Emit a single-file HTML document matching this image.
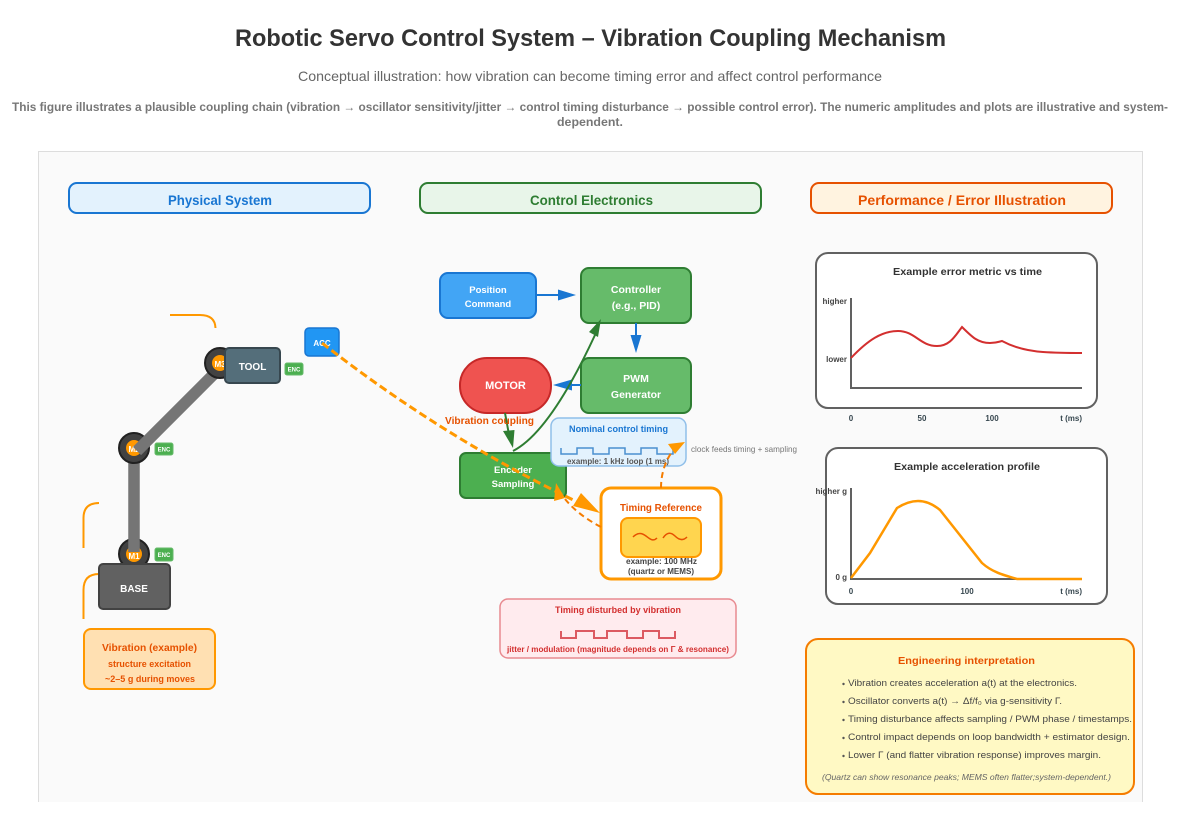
<!DOCTYPE html>
<html><head><meta charset="utf-8"><style>
html,body{margin:0;padding:0;background:#fff;width:1178px;height:815px;overflow:hidden}
svg{display:block}
text{font-family:"Liberation Sans",Arial,sans-serif}
.b{font-weight:700}
.w{fill:#fff;font-weight:700}
</style></head><body>
<svg width="1178" height="815" viewBox="0 0 1178 815" xmlns="http://www.w3.org/2000/svg">
<rect width="1178" height="815" fill="#fff"/>
<text x="235" y="46" font-size="24" class="b" fill="#333" textLength="711" lengthAdjust="spacingAndGlyphs">Robotic Servo Control System – Vibration Coupling Mechanism</text>
<text x="298" y="81" font-size="14" fill="#666" textLength="584" lengthAdjust="spacingAndGlyphs">Conceptual illustration: how vibration can become timing error and affect control performance</text>
<text x="12" y="111" font-size="12" class="b" fill="#777" textLength="1156" lengthAdjust="spacingAndGlyphs">This figure illustrates a plausible coupling chain (vibration → oscillator sensitivity/jitter → control timing disturbance → possible control error). The numeric amplitudes and plots are illustrative and system-</text>
<text x="557" y="126" font-size="12" class="b" fill="#777" textLength="66" lengthAdjust="spacingAndGlyphs">dependent.</text>

<path d="M38.500 802V151.500H1142.500V802" fill="#fafafa" stroke="#ddd"/>

<rect x="69" y="183" width="301" height="30" rx="8" fill="#e3f2fd" stroke="#1976d2" stroke-width="2"/>
<text x="168" y="205" font-size="14" class="b" fill="#1976d2" textLength="104" lengthAdjust="spacingAndGlyphs">Physical System</text>
<rect x="420" y="183" width="341" height="30" rx="8" fill="#e8f5e9" stroke="#2e7d32" stroke-width="2"/>
<text x="530" y="205" font-size="14" class="b" fill="#2e7d32" textLength="123" lengthAdjust="spacingAndGlyphs">Control Electronics</text>
<rect x="811" y="183" width="301" height="30" rx="8" fill="#fff3e0" stroke="#e65100" stroke-width="2"/>
<text x="858" y="205" font-size="14" class="b" fill="#e65100" textLength="208" lengthAdjust="spacingAndGlyphs">Performance / Error Illustration</text>

<!-- vibration arcs -->
<g fill="none" stroke="#ff9800" stroke-width="2">
<path d="M170 315H200Q215 315 215.500 328"/>
<path d="M83.500 548V518Q83.500 503 99 503"/>
<path d="M83.500 619V590Q83.500 574 99 574"/>
</g>

<!-- robot -->
<circle cx="134" cy="554" r="15" fill="#424242" stroke="#212121" stroke-width="2"/>
<circle cx="134" cy="554" r="8" fill="#ff9800"/>
<line x1="134" y1="552" x2="134" y2="448" stroke="#757575" stroke-width="11.500"/>
<text x="134" y="559" font-size="8" class="w" text-anchor="middle">M1</text>
<rect x="99" y="564" width="71" height="45" rx="4" fill="#616161" stroke="#424242" stroke-width="2"/>
<text x="134" y="592" font-size="10" class="w" text-anchor="middle">BASE</text>
<circle cx="134" cy="448" r="15" fill="#424242" stroke="#212121" stroke-width="2"/>
<circle cx="134" cy="448" r="8" fill="#ff9800"/>
<text x="134" y="452" font-size="8" class="w" text-anchor="middle">M2</text>
<line x1="137" y1="451" x2="222" y2="366" stroke="#757575" stroke-width="11.500"/>
<circle cx="220" cy="363" r="15" fill="#424242" stroke="#212121" stroke-width="2"/>
<circle cx="220" cy="363" r="8" fill="#ff9800"/>
<text x="220" y="367" font-size="8" class="w" text-anchor="middle">M3</text>
<rect x="225" y="348" width="55" height="35" rx="4" fill="#546e7a" stroke="#37474f" stroke-width="2"/>
<text x="252.500" y="370" font-size="10" class="w" text-anchor="middle">TOOL</text>
<g fill="#4caf50" stroke="#66bb6a">
<rect x="155" y="548" width="18" height="13" rx="2"/><rect x="155" y="443" width="18" height="12" rx="2"/><rect x="285" y="363" width="18" height="12" rx="2"/>
</g>
<g font-size="6" class="w" text-anchor="middle">
<text x="164" y="557">ENC</text><text x="164" y="451.500">ENC</text><text x="294" y="371.500">ENC</text>
</g>
<rect x="305" y="328" width="34" height="28" rx="4" fill="#2196f3" stroke="#1976d2" stroke-width="1.500"/>
<text x="322" y="346" font-size="8" class="w" text-anchor="middle">ACC</text>

<rect x="84" y="629" width="131" height="60" rx="7" fill="#ffe0b2" stroke="#ff9800" stroke-width="2"/>
<text x="102" y="651" font-size="10.500" class="b" fill="#e65100" textLength="95" lengthAdjust="spacingAndGlyphs">Vibration (example)</text>
<text x="108" y="667" font-size="9" class="b" fill="#e65100" textLength="83" lengthAdjust="spacingAndGlyphs">structure excitation</text>
<text x="105" y="682" font-size="9" class="b" fill="#e65100" textLength="90" lengthAdjust="spacingAndGlyphs">~2–5 g during moves</text>

<!-- control blocks -->
<rect x="440" y="273" width="96" height="45" rx="8" fill="#42a5f5" stroke="#1976d2" stroke-width="2"/>
<text x="488" y="293" font-size="9.500" class="w" text-anchor="middle">Position</text>
<text x="488" y="307" font-size="9.500" class="w" text-anchor="middle">Command</text>
<rect x="581" y="268" width="110" height="55" rx="8" fill="#66bb6a" stroke="#2e7d32" stroke-width="2"/>
<text x="636" y="293" font-size="10.500" class="w" text-anchor="middle">Controller</text>
<text x="636" y="309" font-size="10.500" class="w" text-anchor="middle">(e.g., PID)</text>
<rect x="581" y="358" width="110" height="55" rx="8" fill="#66bb6a" stroke="#2e7d32" stroke-width="2"/>
<text x="636" y="382" font-size="10.500" class="w" text-anchor="middle">PWM</text>
<text x="636" y="398" font-size="10.500" class="w" text-anchor="middle">Generator</text>
<rect x="460" y="358" width="91" height="55" rx="27" fill="#ef5350" stroke="#c62828" stroke-width="2"/>
<text x="505.500" y="389" font-size="11" class="w" text-anchor="middle">MOTOR</text>
<rect x="460" y="453" width="106" height="45" rx="6" fill="#4caf50" stroke="#2e7d32" stroke-width="2"/>
<text x="513" y="473" font-size="9.500" class="w" text-anchor="middle">Encoder</text>
<text x="513" y="487" font-size="9.500" class="w" text-anchor="middle">Sampling</text>

<!-- blue arrows -->
<g stroke="#1976d2" stroke-width="2" fill="none">
<line x1="537" y1="295" x2="560" y2="295"/><line x1="636" y1="323" x2="636" y2="336"/><line x1="581" y1="385" x2="570" y2="385"/>
</g>
<g fill="#1976d2">
<polygon points="576,295 558,289.500 558,300.500"/><polygon points="636,353 630.500,335 641.500,335"/><polygon points="553,385 572,379.500 572,390.500"/>
</g>
<!-- green arrows -->
<g stroke="#2e7d32" stroke-width="2" fill="none">
<path d="M505 413L510 440"/>
<path d="M513 451Q550 432 595 335"/>
</g>
<g fill="#2e7d32">
<polygon points="513,448 503,431 514.500,430"/>
<polygon points="601,319 598,337 589,332"/>
</g>

<text x="445" y="424" font-size="10" class="b" fill="#e65100" textLength="89" lengthAdjust="spacingAndGlyphs">Vibration coupling</text>

<!-- nominal -->
<rect x="551" y="418" width="135" height="48" rx="8" fill="#e3f2fd" stroke="#90bfe9" stroke-width="1.500"/>
<text x="569" y="432" font-size="9" class="b" fill="#1976d2" textLength="99" lengthAdjust="spacingAndGlyphs">Nominal control timing</text>
<path d="M561 448V454H577V448H593V454H609V448H625V454H641V448H657V454H673V448" fill="none" stroke="#4a90d0" stroke-width="1.500"/>
<text x="567" y="464" font-size="8" class="b" fill="#555" textLength="102" lengthAdjust="spacingAndGlyphs">example: 1 kHz loop (1 ms)</text>
<text x="691" y="452" font-size="8.500" fill="#777" textLength="106" lengthAdjust="spacingAndGlyphs">clock feeds timing + sampling</text>

<!-- timing reference -->
<rect x="601" y="488" width="120" height="91" rx="10" fill="#fff" stroke="#ff9800" stroke-width="3"/>
<text x="620" y="511" font-size="10" class="b" fill="#e65100" textLength="82" lengthAdjust="spacingAndGlyphs">Timing Reference</text>
<rect x="621" y="518" width="80" height="39" rx="7" fill="#ffd54f" stroke="#ff9800" stroke-width="2"/>
<path d="M633 537C638 532 642 533 646 536S653 542 657 538M663 538C667 532 671 532 675 536S683 541 687 537" fill="none" stroke="#e65100" stroke-width="1.500"/>
<text x="626" y="564" font-size="8" class="b" fill="#444" textLength="71" lengthAdjust="spacingAndGlyphs">example: 100 MHz</text>
<text x="628" y="574" font-size="8" class="b" fill="#444" textLength="66" lengthAdjust="spacingAndGlyphs">(quartz or MEMS)</text>

<!-- disturbed -->
<rect x="500" y="599" width="236" height="59" rx="8" fill="#ffebee" stroke="#e88a90" stroke-width="1.500"/>
<text x="555" y="613" font-size="9" class="b" fill="#d32f2f" textLength="126" lengthAdjust="spacingAndGlyphs">Timing disturbed by vibration</text>
<path d="M561 631V638H576V631H594V638H607V631H627V638H643V631H659V638H675V631" fill="none" stroke="#dc5a62" stroke-width="2"/>
<text x="507" y="652" font-size="8" class="b" fill="#d32f2f" textLength="222" lengthAdjust="spacingAndGlyphs">jitter / modulation (magnitude depends on Γ &amp; resonance)</text>

<!-- dashed connectors -->
<path d="M322 343Q447.400 440.900 586.300 506.200" fill="none" stroke="#ff9800" stroke-width="3" stroke-dasharray="8,4"/>
<polygon points="600,513 573,506 581,493" fill="#ff9800"/>
<path d="M601 527Q578 515 565 499" fill="none" stroke="#f57c00" stroke-width="2" stroke-dasharray="6,4"/>
<polygon points="556,483 565,498 554,501" fill="#ff9800"/>
<path d="M661 488Q661 466 674 449" fill="none" stroke="#f57c00" stroke-width="2" stroke-dasharray="6,4"/>
<polygon points="685,442 668,444 675,454" fill="#ff9800"/>

<!-- chart 1 -->
<rect x="816" y="253" width="281" height="155" rx="12" fill="#fff" stroke="#616161" stroke-width="2"/>
<text x="893" y="275" font-size="10.500" class="b" fill="#333" textLength="149" lengthAdjust="spacingAndGlyphs">Example error metric vs time</text>
<path d="M851 298V388H1082" fill="none" stroke="#616161" stroke-width="2"/>
<g font-size="8" class="b" fill="#444">
<text x="847" y="304" text-anchor="end">higher</text><text x="847" y="362" text-anchor="end">lower</text>
<text x="851" y="421" text-anchor="middle" fill="#37474f">0</text><text x="922" y="421" text-anchor="middle" fill="#37474f">50</text><text x="992" y="421" text-anchor="middle" fill="#37474f">100</text><text x="1082" y="421" text-anchor="end" fill="#37474f">t (ms)</text>
</g>
<path d="M851 358C868 340 882 331 898 331C915 331 920 346 937 346C950 346 955 336 962 327C972 337 978 343 990 343C996 343 998 342 1002 341C1015 348 1028 351 1043 352C1058 353 1070 353 1082 353" fill="none" stroke="#d32f2f" stroke-width="2"/>

<!-- chart 2 -->
<rect x="826" y="448" width="281" height="156" rx="12" fill="#fff" stroke="#616161" stroke-width="2"/>
<text x="894" y="470" font-size="10.500" class="b" fill="#333" textLength="146" lengthAdjust="spacingAndGlyphs">Example acceleration profile</text>
<path d="M851 488V579H1082" fill="none" stroke="#616161" stroke-width="2"/>
<g font-size="8" class="b" fill="#444">
<text x="847" y="494" text-anchor="end">higher g</text><text x="847" y="580" text-anchor="end">0 g</text>
<text x="851" y="594" text-anchor="middle" fill="#37474f">0</text><text x="967" y="594" text-anchor="middle" fill="#37474f">100</text><text x="1082" y="594" text-anchor="end" fill="#37474f">t (ms)</text>
</g>
<path d="M851 578L870 553L885 528L897 508C905 503 911 501 918 501C927 501 934 505 940 510L982 563C992 572 1003 575 1017 579H1082" fill="none" stroke="#ff9800" stroke-width="2.500"/>

<!-- engineering -->
<rect x="806" y="639" width="328" height="155" rx="12" fill="#fff9c4" stroke="#f57c00" stroke-width="2"/>
<text x="898" y="664" font-size="10.500" class="b" fill="#e65100" textLength="137" lengthAdjust="spacingAndGlyphs">Engineering interpretation</text>
<g fill="#555"><circle cx="843.500" cy="684" r="1.200"/><circle cx="843.500" cy="702" r="1.200"/><circle cx="843.500" cy="720" r="1.200"/><circle cx="843.500" cy="738" r="1.200"/><circle cx="843.500" cy="756" r="1.200"/></g>
<g font-size="9.500" fill="#444">
<text x="848" y="686" textLength="229" lengthAdjust="spacingAndGlyphs">Vibration creates acceleration a(t) at the electronics.</text>
<text x="848" y="704" textLength="214" lengthAdjust="spacingAndGlyphs">Oscillator converts a(t) → Δf/f₀ via g-sensitivity Γ.</text>
<text x="848" y="722" textLength="284" lengthAdjust="spacingAndGlyphs">Timing disturbance affects sampling / PWM phase / timestamps.</text>
<text x="848" y="740" textLength="282" lengthAdjust="spacingAndGlyphs">Control impact depends on loop bandwidth + estimator design.</text>
<text x="848" y="758" textLength="253" lengthAdjust="spacingAndGlyphs">Lower Γ (and flatter vibration response) improves margin.</text>
</g>
<text x="822" y="780" font-size="8.500" font-style="italic" fill="#666" textLength="289" lengthAdjust="spacingAndGlyphs">(Quartz can show resonance peaks; MEMS often flatter;system-dependent.)</text>
</svg>
</body></html>
